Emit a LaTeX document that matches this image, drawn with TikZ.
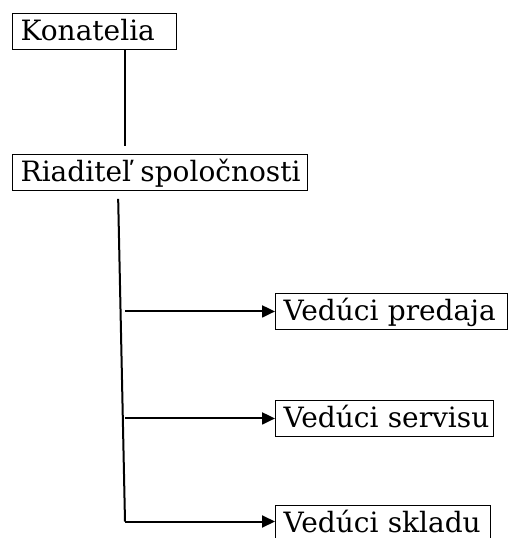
\documentclass[tikz,border=0pt]{standalone}
\usepackage{fontspec}
\setmainfont{DejaVu Serif}
\usepackage{tikz}
\usetikzlibrary{arrows.meta}

\tikzset{
  postbox/.style={draw, line width=1.4pt, anchor=north west, inner xsep=8pt,
    inner ysep=0pt, text height=27pt, text depth=8.5pt, align=left,
    font=\fontsize{28}{30}\selectfont},
  feed/.style={line width=2pt, -{Triangle[length=13pt,width=12pt]}}
}

\begin{document}
\begin{tikzpicture}[x=1pt, y=-1pt]
    \useasboundingbox (0,0) rectangle (507,538);

    % Boxes
    \node[postbox, text width=148pt] (kon) at (12,13) {\mbox{Konatelia}};
    \node[postbox, text width=279pt] (riad) at (12,154) {\mbox{Riaditeľ spoločnosti}};
    \node[postbox, text width=216pt] (pred) at (275,293) {\mbox{Vedúci predaja}};
    \node[postbox, text width=202pt] (serv) at (275,400) {\mbox{Vedúci servisu}};
    \node[postbox, text width=199pt] (skl) at (275,505) {\mbox{Vedúci skladu}};

    % Lines
    \coordinate (xk) at (125,0);
    \coordinate (xr) at (118,0);
    \coordinate (corner) at (125,521.5);
    \draw[line width=2pt, shorten >=8pt] (kon.south -| xk) -- (riad.north -| xk);
    \draw[line width=2pt, shorten <=8pt] (riad.south -| xr) -- (corner);

    \draw[feed] (pred.west -| xk) -- (pred.west);
    \draw[feed] (serv.west -| xk) -- (serv.west);
    \draw[feed] (corner) -- (skl.west |- corner);

\end{tikzpicture}
\end{document}
